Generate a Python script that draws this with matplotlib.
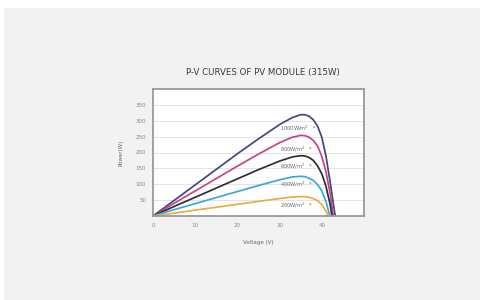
import matplotlib.pyplot as plt
from matplotlib.patches import Rectangle

# voltage (V) sample points
v_1000 = [0, 5, 10, 15, 20, 25, 30, 33, 35, 36, 37, 38, 39, 40, 41, 42, 42.5, 43, 43.2]
p_1000 = [0, 49, 98, 147, 196, 243, 288, 310, 319, 319, 314, 303, 283, 248, 188, 105, 60, 15, 0]

v_800 = [0, 5, 10, 15, 20, 25, 30, 33, 35, 36, 37, 38, 39, 40, 41, 42, 42.7]
p_800 = [0, 40, 79, 118, 157, 195, 231, 248, 254, 253, 248, 238, 220, 188, 138, 70, 0]

v_600 = [0, 5, 10, 15, 20, 25, 30, 33, 35, 36, 37, 38, 39, 40, 41, 42, 42.4]
p_600 = [0, 30, 59, 88, 117, 146, 173, 186, 190, 189, 184, 175, 158, 133, 93, 35, 0]

v_400 = [0, 5, 10, 15, 20, 25, 30, 33, 35, 36, 37, 38, 39, 40, 41, 41.9]
p_400 = [0, 20, 39, 58, 77, 96, 114, 123, 125, 124, 119, 112, 99, 79, 45, 0]

v_200 = [0, 5, 10, 15, 20, 25, 30, 33, 35, 36, 37, 38, 39, 40, 41, 41.5]
p_200 = [0, 9, 18.5, 27.5, 37, 46, 55, 60, 61, 61, 59, 55, 48, 36, 15, 0]

labels = ["1000W/m", "800W/m", "600W/m", "400W/m", "200W/m"]
label_y = [275, 211, 157, 99, 35]
colors = ["#42487f", "#c8428a", "#2e2e2e", "#3aa6dc", "#eeaa44"]

fig = plt.figure(figsize=(4.81, 3.0), dpi=100)
fig.patch.set_facecolor("#f2f2f2")
# white strips along the top and left edge
fig.patches.append(Rectangle((0, 292 / 300), 1, 8 / 300, transform=fig.transFigure,
                             facecolor="white", edgecolor="none"))
fig.patches.append(Rectangle((0, 0), 4 / 481, 1, transform=fig.transFigure,
                             facecolor="white", edgecolor="none"))

ax = fig.add_axes([153 / 481, 84 / 300, 211 / 481, 127 / 300])
ax.set_facecolor("white")

series = [(v_1000, p_1000), (v_800, p_800), (v_600, p_600), (v_400, p_400), (v_200, p_200)]
for (v, p), c in zip(series, colors):
    ax.plot(v, p, color=c, lw=1.25, solid_capstyle="round")

for lab, y in zip(labels, label_y):
    ax.text(30, y, lab + "$^2$   *", fontsize=3.7, color="#666666", va="center", ha="left")

ax.set_xlim(0, 50)
ax.set_ylim(0, 400)
ax.set_xticks([0, 10, 20, 30, 40])
ax.set_yticks([50, 100, 150, 200, 250, 300, 350])
ax.yaxis.grid(True, color="#e4e4e4", lw=0.7)
ax.set_axisbelow(True)
ax.tick_params(length=0, labelsize=4, colors="#888888", pad=5)
for s in ax.spines.values():
    s.set_color("#9a9a9a")
    s.set_linewidth(1.3)

ax.set_xlabel("Voltage (V)", fontsize=4, color="#666666", labelpad=9)
ax.set_ylabel("Power(W)", fontsize=4, color="#666666", labelpad=9)
fig.text(263 / 481, 1 - 72 / 300, "P-V CURVES OF PV MODULE (315W)", fontsize=6.2,
         color="#3a3a3a", ha="center", va="center")

fig.savefig("out.png", dpi=100, facecolor=fig.get_facecolor())
